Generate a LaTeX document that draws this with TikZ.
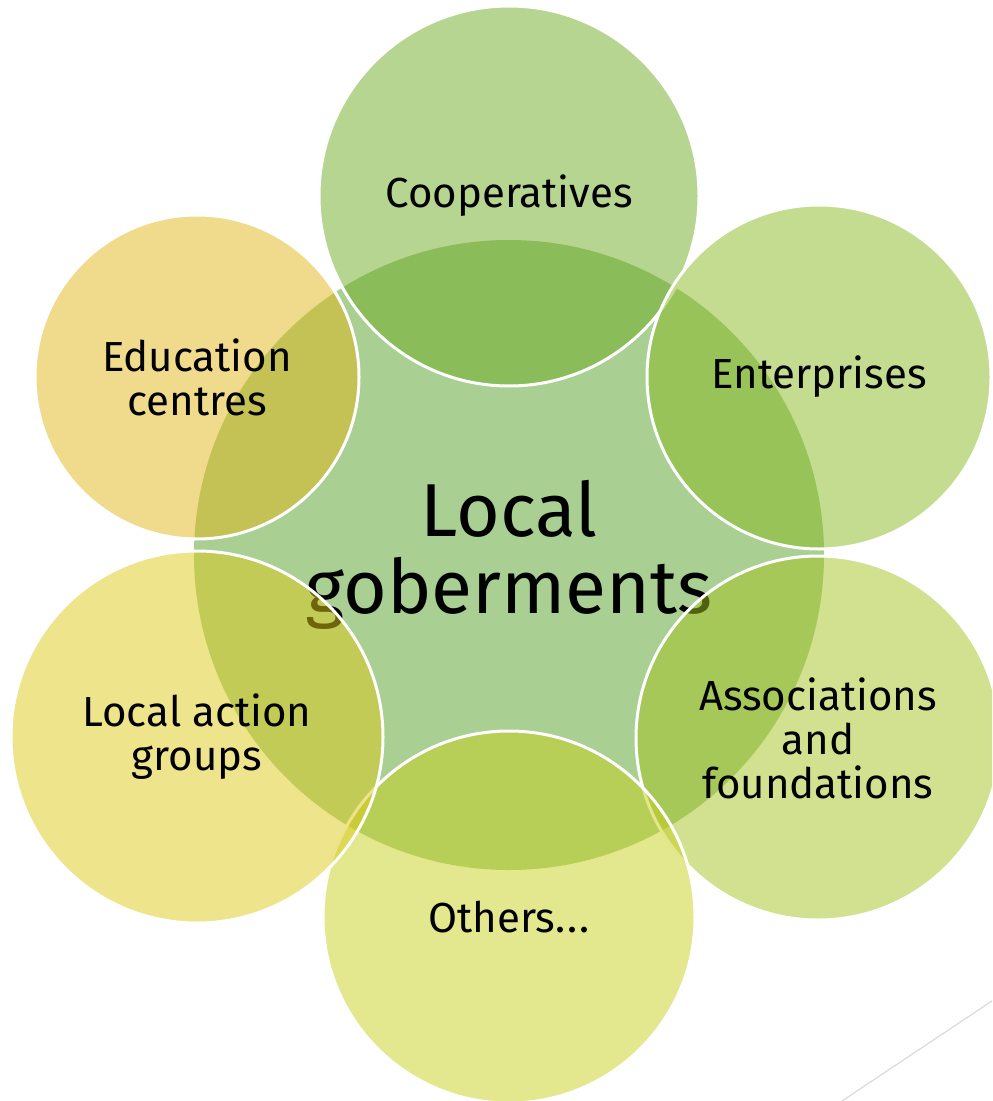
\documentclass[tikz,border=0pt]{standalone}
\usepackage{fontspec}
\setsansfont{Fira Sans}
\definecolor{cHub}{HTML}{A9CF93}
\definecolor{cCoop}{HTML}{6DAB21}
\definecolor{cEnter}{HTML}{87B91F}
\definecolor{cAssoc}{HTML}{A5C31F}
\definecolor{cOthers}{HTML}{C7CF1D}
\definecolor{cLag}{HTML}{DBC919}
\definecolor{cEdu}{HTML}{E1B719}
\tikzset{
  font=\sffamily,
  hub/.style={circle, fill=cHub, inner sep=0pt, align=center,
    font=\sffamily\fontsize{37.5}{38.5}\selectfont},
  petal/.style={circle, fill=#1, fill opacity=0.5, text opacity=1,
    draw=white, line width=1.5pt, inner sep=0pt, align=center,
    font=\sffamily\fontsize{21}{22}\selectfont},
  slideline/.style={draw=black!15, line width=0.6pt},
}

\begin{document}
\begin{tikzpicture}[x=0.5pt, y=-0.5pt]
  \useasboundingbox (0,0) rectangle (992,1101);
  \clip (0,0) rectangle (992,1101);

  % central circle, drawn first so the petals tint over it
  \node[hub, minimum size=315pt] (hub) at (509,555) {Local\\goberments};

  % petals, clockwise from the top
  \node[petal=cCoop,   minimum size=190pt] (coop)   at (509,196) {Cooperatives};
  \node[petal=cEnter,  minimum size=172pt] (enter)  at (819,377) {Enterprises};
  \node[petal=cAssoc,  minimum size=182pt] (assoc)  at (818,738) {Associations\\and\\foundations};
  \node[petal=cOthers, minimum size=186pt] (others) at (509,917) {Others.\kern1pt.\kern1pt.};
  \node[petal=cLag,    minimum size=186pt] (lag)    at (197,737) {Local action\\groups};
  \node[petal=cEdu,    minimum size=162pt] (edu)    at (197,377) {Education\\centres};

  % slide decoration in the corner
  \draw[slideline] (827,1111) -- (1007,991);
\end{tikzpicture}
\end{document}
